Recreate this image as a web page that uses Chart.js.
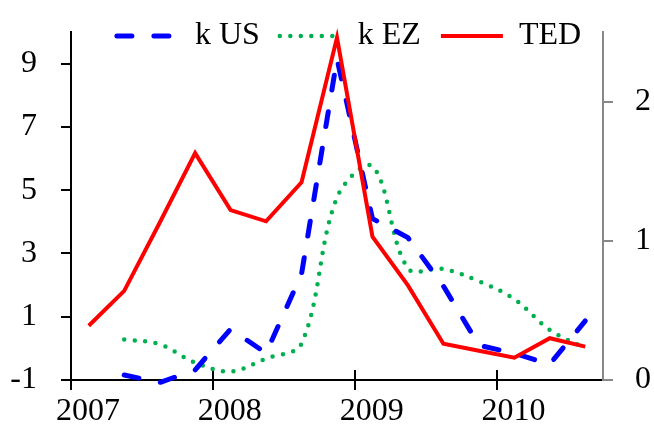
<!DOCTYPE html>
<html>
<head>
<meta charset="utf-8">
<script src="https://cdn.jsdelivr.net/npm/chart.js@4/dist/chart.umd.min.js"></script>
<style>
  html, body { margin: 0; padding: 0; background: #fff; }
  #grafico { display: block; }
</style>
</head>
<body>
<canvas id="grafico" width="654" height="424"></canvas>
<script>
// dati trimestrali 2007Q1 - 2010Q3
var trimestri = ['2007Q1', '2007Q2', '2007Q3', '2007Q4',
                 '2008Q1', '2008Q2', '2008Q3', '2008Q4',
                 '2009Q1', '2009Q2', '2009Q3', '2009Q4',
                 '2010Q1', '2010Q2', '2010Q3'];
var k_us = [null, -0.84, -1.08, -0.68, 0.61, -0.15, 2.35, 9.15, 4.1, 3.5, 1.97, 0.1, -0.16, -0.5, 0.87];
var k_ez = [null, 0.28, 0.13, -0.45, -0.73, -0.32, 0.15, 4.77, 5.75, 2.53, 2.51, 2.12, 1.56, 0.58, 0.01];
var ted = [0.39, 0.64, 1.13, 1.63, 1.22, 1.14, 1.42, 2.46, 1.03, 0.68, 0.26, 0.21, 0.16, 0.3, 0.24];

var nomi_serie = ['k US', 'k EZ', 'TED'];
var anni = [2007, 2008, 2009, 2010];
var tick_sinistra = [-1, 1, 3, 5, 7, 9];
var tick_destra = [0, 1, 2];

var font_grafico = { family: 'Liberation Serif', size: 32 };

// il trimestre va posizionato a metà del suo intervallo sull'asse degli anni
function posizione_trimestre(t) {
  var anno = parseInt(t.slice(0, 4), 10);
  var q = parseInt(t.slice(5), 10);
  return anno + (q - 0.5) / 4;
}

function punti(valori) {
  var out = [];
  for (var i = 0; i < trimestri.length; i++) {
    if (valori[i] !== null) {
      out.push({ x: posizione_trimestre(trimestri[i]), y: valori[i] });
    }
  }
  return out;
}

// la legenda sta sopra l'area del grafico senza spingerla in basso
var posizione_legenda = {
  id: 'posizione_legenda',
  beforeInit: function(chart) {
    var fit_originale = chart.legend.fit;
    chart.legend.fit = function() {
      fit_originale.call(this);
      this.height = 32;
    };
  },
  afterLayout: function(chart) {
    // sposto un po' a destra e allargo il box per non tagliare il testo
    chart.legend.left += 44;
    chart.legend.bottom = chart.legend.top + 70;
  }
};

// tacche dell'asse x anche verso l'interno
var tacche_interne = {
  id: 'tacche_interne',
  beforeDatasetsDraw: function(chart) {
    var ctx = chart.ctx;
    var asse = chart.scales.x;
    var fondo = chart.chartArea.bottom;
    ctx.save();
    ctx.strokeStyle = '#000';
    ctx.lineWidth = 2;
    asse.ticks.forEach(function(t) {
      var px = Math.round(asse.getPixelForValue(t.value));
      ctx.beginPath();
      ctx.moveTo(px, fondo);
      ctx.lineTo(px, fondo - 10);
      ctx.stroke();
    });
    ctx.restore();
  }
};

function asse_y_fisso(larghezza) {
  return function(s) {
    s.width = larghezza;
    s.paddingTop = 0;
    s.paddingBottom = 0;
  };
}

var grafico = new Chart(document.getElementById('grafico'), {
  type: 'line',
  data: {
    datasets: [{
      label: nomi_serie[0],
      data: punti(k_us),
      yAxisID: 'y',
      borderColor: '#0000FF',
      borderWidth: 5,
      borderDash: [15, 22],
      borderCapStyle: 'round',
      pointRadius: 0,
      tension: 0,
      clip: false,
      order: 1
    }, {
      label: nomi_serie[1],
      data: punti(k_ez),
      yAxisID: 'y',
      borderColor: '#00B050',
      borderWidth: 4.5,
      borderDash: [0, 10.5],
      borderCapStyle: 'round',
      pointRadius: 0,
      tension: 0.35,
      clip: false,
      order: 2
    }, {
      label: nomi_serie[2],
      data: punti(ted),
      yAxisID: 'y2',
      borderColor: '#FF0000',
      borderWidth: 4,
      pointRadius: 0,
      tension: 0,
      clip: false,
      order: 0
    }]
  },
  options: {
    responsive: false,
    animation: false,
    devicePixelRatio: 1,
    layout: { padding: 0 },
    plugins: {
      tooltip: { enabled: false },
      legend: {
        position: 'top',
        align: 'center',
        labels: {
          usePointStyle: true,
          pointStyleWidth: 62,
          padding: 20,
          color: '#000',
          font: font_grafico,
          generateLabels: function(chart) {
            return chart.data.datasets.map(function(ds, i) {
              return {
                text: ds.label,
                datasetIndex: i,
                fillStyle: 'rgba(0,0,0,0)',
                strokeStyle: ds.borderColor,
                lineWidth: ds.borderWidth,
                lineDash: ds.borderDash || [],
                lineCap: ds.borderCapStyle || 'butt',
                pointStyle: 'line',
                fontColor: '#000',
                hidden: false
              };
            });
          }
        }
      }
    },
    scales: {
      x: {
        type: 'linear',
        position: 'bottom',
        min: 2007,
        max: 2010.75,
        afterBuildTicks: function(s) { s.ticks = anni.map(function(v) { return { value: v }; }); },
        afterFit: function(s) { s.height = 44; },
        ticks: {
          callback: function(v) { return String(v); },
          color: '#000',
          font: font_grafico,
          padding: 2,
          labelOffset: 17,
          maxRotation: 0,
          autoSkip: false
        },
        grid: { drawOnChartArea: false, drawTicks: true, tickLength: 10, color: '#000', lineWidth: 2 },
        border: { display: true, color: '#000', width: 2 }
      },
      y: {
        position: 'left',
        min: -1,
        max: 10,
        afterBuildTicks: function(s) { s.ticks = tick_sinistra.map(function(v) { return { value: v }; }); },
        afterFit: asse_y_fisso(71),
        ticks: {
          callback: function(v) { return String(v); },
          color: '#000',
          font: font_grafico,
          padding: 24
        },
        grid: { drawOnChartArea: false, drawTicks: true, tickLength: 10, color: '#000', lineWidth: 2 },
        border: { display: true, color: '#000', width: 2 }
      },
      y2: {
        position: 'right',
        min: 0,
        max: 2.5,
        afterBuildTicks: function(s) { s.ticks = tick_destra.map(function(v) { return { value: v }; }); },
        afterFit: asse_y_fisso(51),
        ticks: {
          callback: function(v) { return String(v); },
          color: '#000',
          font: font_grafico,
          padding: 22
        },
        grid: { drawOnChartArea: false, drawTicks: true, tickLength: 10, color: '#888888', lineWidth: 2 },
        border: { display: true, color: '#888888', width: 2 }
      }
    }
  },
  plugins: [posizione_legenda, tacche_interne]
});
</script>
</body>
</html>
